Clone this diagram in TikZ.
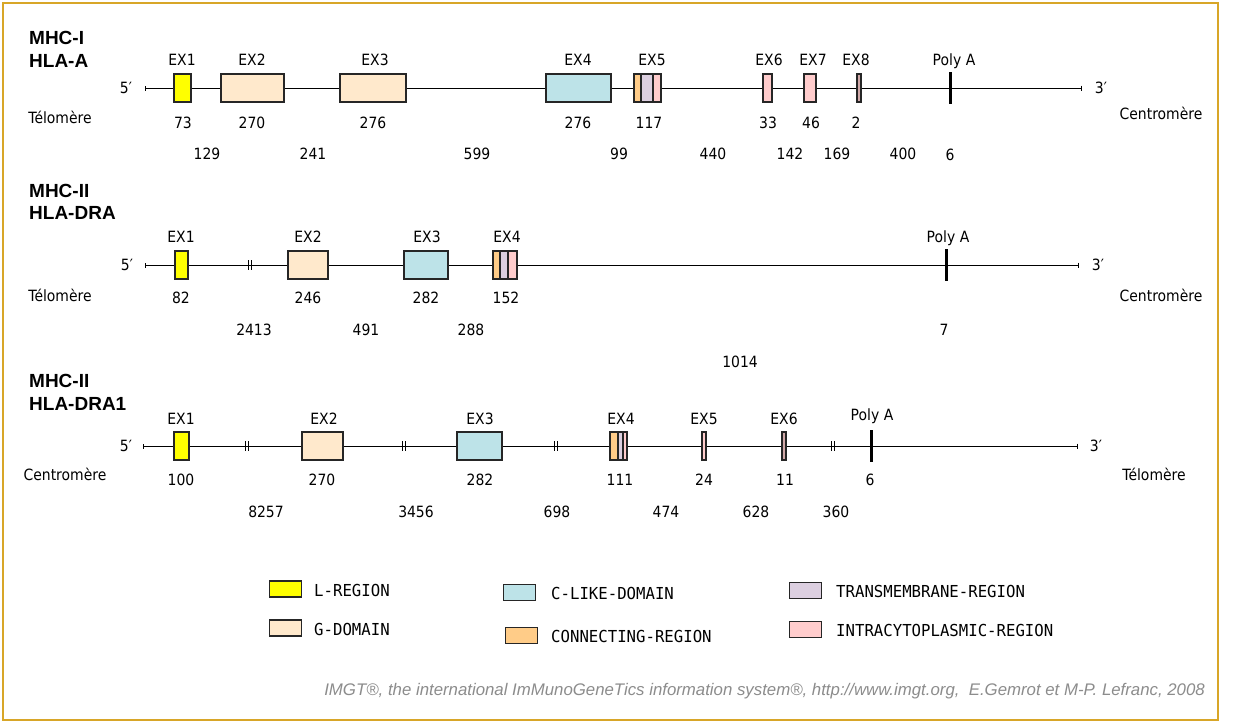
\documentclass[tikz,border=0pt]{standalone}
\usepackage{fontspec}
\setmainfont{DejaVu Sans}[FakeStretch=0.9]
\newfontfamily\titlefont{Liberation Sans}
\newfontfamily\legfont{DejaVu Sans Mono}[FakeStretch=0.95]
\newfontfamily\footfont{Liberation Sans}
\usetikzlibrary{arrows.meta}
\definecolor{lreg}{HTML}{FFFF00}
\definecolor{gdom}{HTML}{FFE9CC}
\definecolor{clike}{HTML}{BDE3E8}
\definecolor{conn}{HTML}{FFCC88}
\definecolor{tmreg}{HTML}{DCCFE0}
\definecolor{icreg}{HTML}{FFCCCC}
\definecolor{icdark}{HTML}{D0A8A8}
\definecolor{framecol}{HTML}{D8A628}
\begin{document}
\begin{tikzpicture}[x=1pt,y=-1pt,
  txt/.style={font=\fontsize{15.5}{17}\selectfont, inner sep=0pt, text=black, text height=11pt, text depth=0pt},
  ttl/.style={font=\titlefont\bfseries\fontsize{19}{21}\selectfont, inner sep=0pt, anchor=west, text height=13.6pt, text depth=0pt},
  exb/.style={draw=black!85, line width=1.2pt, inner sep=0pt, minimum height=28pt},
  backbone/.style={line width=1pt, {Bar[width=5pt]}-{Bar[width=5pt]}},
  polya/.style={fill=black, inner sep=0pt, minimum width=3pt, minimum height=32pt},
  brk/.pic={\draw[line width=0.9pt] (-1.6,-5)--(-1.6,5) (1.6,-5)--(1.6,5);},
  legbox/.style={draw=black!85, line width=1.2pt, inner sep=0pt, minimum width=32pt, minimum height=16pt},
  legtxt/.style={font=\legfont\fontsize{16.5}{18}\selectfont, anchor=west, inner sep=0pt, text height=12pt, text depth=0pt},
]
\useasboundingbox (0,0) rectangle (1252,723);
\fill[white] (0,0) rectangle (1252,723);
\draw[framecol, line width=1.5pt] (3,3) rectangle (1218,720);

% ---------------- Row 1 : MHC-I HLA-A ----------------
\node[ttl] (t1a) at (29,38) {MHC-I};
\node[ttl] (t1b) at (29,61) {HLA-A};
\coordinate (r1s) at (145,88);
\coordinate (r1e) at (1082,88);
\draw[backbone] (r1s) -- (r1e);
\node[txt] (r1p5) at (126,88) {5′};
\node[txt] (r1p3) at (1101,88) {3′};
\node[txt] (r1tel) at (60,118) {Télomère};
\node[txt] (r1cen) at (1161,114) {Centromère};
\node[exb, fill=lreg, minimum width=17pt] (r1ex1) at (182.5,88) {};
\node[exb, fill=gdom, minimum width=63pt] (r1ex2) at (252.5,88) {};
\node[exb, fill=gdom, minimum width=66pt] (r1ex3) at (373,88) {};
\node[exb, fill=clike, minimum width=65pt] (r1ex4) at (578.5,88) {};
\node[exb, fill=conn, minimum width=7pt] (r1ex5a) at (637.5,88) {};
\node[exb, fill=tmreg, minimum width=12pt] (r1ex5b) at (647,88) {};
\node[exb, fill=icreg, minimum width=8pt] (r1ex5c) at (657,88) {};
\node[exb, fill=icreg, minimum width=9pt] (r1ex6) at (767.5,88) {};
\node[exb, fill=icreg, minimum width=12pt] (r1ex7) at (810,88) {};
\node[exb, fill=icdark, minimum width=4pt] (r1ex8) at (859,88) {};
\node[polya] (r1pa) at (950,88) {};
\node[txt] (r1l1) at (182,60) {EX1};
\node[txt] (r1l2) at (252,60) {EX2};
\node[txt] (r1l3) at (375,60) {EX3};
\node[txt] (r1l4) at (578,60) {EX4};
\node[txt] (r1l5) at (652,60) {EX5};
\node[txt] (r1l6) at (769,60) {EX6};
\node[txt] (r1l7) at (813,60) {EX7};
\node[txt] (r1l8) at (856,60) {EX8};
\node[txt] (r1lp) at (954,60) {Poly A};
\node[txt] (r1s1) at (183,123) {73};
\node[txt] (r1s2) at (252,123) {270};
\node[txt] (r1s3) at (373,123) {276};
\node[txt] (r1s4) at (578,123) {276};
\node[txt] (r1s5) at (649,123) {117};
\node[txt] (r1s6) at (768,123) {33};
\node[txt] (r1s7) at (811,123) {46};
\node[txt] (r1s8) at (856,123) {2};
\node[txt] (r1i1) at (207,154) {129};
\node[txt] (r1i2) at (313,154) {241};
\node[txt] (r1i3) at (477,154) {599};
\node[txt] (r1i4) at (619,154) {99};
\node[txt] (r1i5) at (713,154) {440};
\node[txt] (r1i6) at (790,154) {142};
\node[txt] (r1i7) at (837,154) {169};
\node[txt] (r1i8) at (903,154) {400};
\node[txt] (r1i9) at (950,155) {6};

% ---------------- Row 2 : MHC-II HLA-DRA ----------------
\node[ttl] (t2a) at (29,191) {MHC-II};
\node[ttl] (t2b) at (29,213) {HLA-DRA};
\coordinate (r2s) at (145,265);
\coordinate (r2e) at (1079,265);
\draw[backbone] (r2s) -- (r2e);
\node[txt] (r2p5) at (127,265) {5′};
\node[txt] (r2p3) at (1098,265) {3′};
\node[txt] (r2tel) at (60,296) {Télomère};
\node[txt] (r2cen) at (1161,296) {Centromère};
\pic at (250,265) {brk};
\node[exb, fill=lreg, minimum width=13pt] (r2ex1) at (181.5,265) {};
\node[exb, fill=gdom, minimum width=40pt] (r2ex2) at (308,265) {};
\node[exb, fill=clike, minimum width=44pt] (r2ex3) at (426,265) {};
\node[exb, fill=conn, minimum width=7pt] (r2ex4a) at (496.5,265) {};
\node[exb, fill=tmreg, minimum width=8pt] (r2ex4b) at (504,265) {};
\node[exb, fill=icreg, minimum width=9pt] (r2ex4c) at (512.5,265) {};
\node[polya] (r2pa) at (946,265) {};
\node[txt] (r2l1) at (181,237) {EX1};
\node[txt] (r2l2) at (308,237) {EX2};
\node[txt] (r2l3) at (427,237) {EX3};
\node[txt] (r2l4) at (507,237) {EX4};
\node[txt] (r2lp) at (948,237) {Poly A};
\node[txt] (r2s1) at (181,298) {82};
\node[txt] (r2s2) at (308,298) {246};
\node[txt] (r2s3) at (426,298) {282};
\node[txt] (r2s4) at (506,298) {152};
\node[txt] (r2i1) at (254,330) {2413};
\node[txt] (r2i2) at (366,330) {491};
\node[txt] (r2i3) at (471,330) {288};
\node[txt] (r2i4) at (944,330) {7};
\node[txt] (r2i5) at (740,362) {1014};

% ---------------- Row 3 : MHC-II HLA-DRA1 ----------------
\node[ttl] (t3a) at (29,381) {MHC-II};
\node[ttl] (t3b) at (29,404) {HLA-DRA1};
\coordinate (r3s) at (143,446);
\coordinate (r3e) at (1078,446);
\draw[backbone] (r3s) -- (r3e);
\node[txt] (r3p5) at (126,446) {5′};
\node[txt] (r3p3) at (1096,446) {3′};
\node[txt] (r3cen) at (65,475) {Centromère};
\node[txt] (r3tel) at (1154,475) {Télomère};
\pic at (247,446) {brk};
\pic at (404,446) {brk};
\pic at (556,446) {brk};
\pic at (833,446) {brk};
\node[exb, fill=lreg, minimum width=15pt] (r3ex1) at (181.5,446) {};
\node[exb, fill=gdom, minimum width=41pt] (r3ex2) at (322.5,446) {};
\node[exb, fill=clike, minimum width=45pt] (r3ex3) at (479.5,446) {};
\node[exb, fill=conn, minimum width=8pt] (r3ex4a) at (614,446) {};
\node[exb, fill=tmreg, minimum width=5pt] (r3ex4b) at (620.5,446) {};
\node[exb, fill=icreg, minimum width=4pt] (r3ex4c) at (625,446) {};
\node[exb, fill=icreg, minimum width=4pt] (r3ex5) at (704,446) {};
\node[exb, fill=icdark, minimum width=4pt] (r3ex6) at (784,446) {};
\node[polya] (r3pa) at (871,446) {};
\node[txt] (r3l1) at (181,419) {EX1};
\node[txt] (r3l2) at (324,419) {EX2};
\node[txt] (r3l3) at (480,419) {EX3};
\node[txt] (r3l4) at (621,419) {EX4};
\node[txt] (r3l5) at (704,419) {EX5};
\node[txt] (r3l6) at (784,419) {EX6};
\node[txt] (r3lp) at (872,415) {Poly A};
\node[txt] (r3s1) at (181,480) {100};
\node[txt] (r3s2) at (322,480) {270};
\node[txt] (r3s3) at (480,480) {282};
\node[txt] (r3s4) at (620,480) {111};
\node[txt] (r3s5) at (704,480) {24};
\node[txt] (r3s6) at (785,480) {11};
\node[txt] (r3s7) at (870,480) {6};
\node[txt] (r3i1) at (266,512) {8257};
\node[txt] (r3i2) at (416,512) {3456};
\node[txt] (r3i3) at (557,512) {698};
\node[txt] (r3i4) at (666,512) {474};
\node[txt] (r3i5) at (756,512) {628};
\node[txt] (r3i6) at (836,512) {360};

% ---------------- Legend ----------------
\node[legbox, fill=lreg] (k1) at (285.5,589) {};
\node[legtxt] (k1t) at (314,590) {L-REGION};
\node[legbox, fill=gdom] (k2) at (285.5,628) {};
\node[legtxt] (k2t) at (314,629) {G-DOMAIN};
\node[legbox, fill=clike] (k3) at (519.5,592.5) {};
\node[legtxt] (k3t) at (551,593) {C-LIKE-DOMAIN};
\node[legbox, fill=conn] (k4) at (521.5,635.5) {};
\node[legtxt] (k4t) at (551,636) {CONNECTING-REGION};
\node[legbox, fill=tmreg] (k5) at (805.5,590.5) {};
\node[legtxt] (k5t) at (836,591) {TRANSMEMBRANE-REGION};
\node[legbox, fill=icreg] (k6) at (805.5,629.5) {};
\node[legtxt] (k6t) at (836,630) {INTRACYTOPLASMIC-REGION};

% ---------------- Footer ----------------
\node[font=\footfont\itshape\fontsize{16.8}{18}\selectfont, text=black!45, inner sep=0pt, anchor=east] (foot) at (1205,691) {IMGT®, the international ImMunoGeneTics information system®, http://www.imgt.org,\ \ E.Gemrot et M-P. Lefranc, 2008};
\end{tikzpicture}
\end{document}
